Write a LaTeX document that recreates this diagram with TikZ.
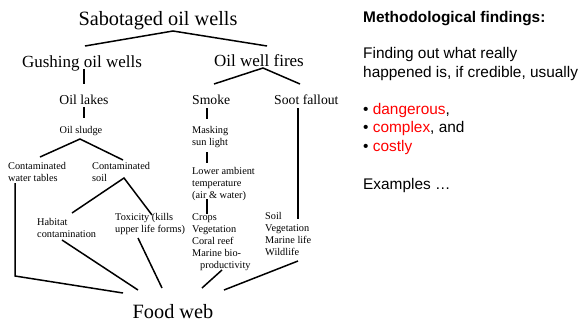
\documentclass[tikz,border=0pt]{standalone}
\usepackage{fontspec}
\setmainfont{Liberation Serif}
\newfontfamily\arialf{Liberation Sans}
\begin{document}
\begin{tikzpicture}[x=1pt,y=-1pt,
  big/.style={font=\fontsize{20.3}{24}\selectfont, inner sep=0pt, anchor=base},
  mid/.style={font=\fontsize{17}{20}\selectfont, inner sep=0pt, anchor=base},
  sml/.style={font=\fontsize{13.7}{16}\selectfont, inner sep=0pt, anchor=base},
  tiny/.style={font=\fontsize{10.3}{12}\selectfont, inner sep=0pt, align=left, anchor=base west},
  side/.style={font=\arialf\fontsize{15.4}{18.5}\selectfont, inner sep=0pt, anchor=base west, align=left},
  link/.style={line width=1.5pt}]
\useasboundingbox (0,0) rectangle (582,322);
% tree nodes (multi-line nodes are placed by the baseline of their last line)
\node[big] (sab) at (158,25) {Sabotaged oil wells};
\node[mid] (gush) at (82,67) {Gushing oil wells};
\node[mid] (fire) at (259,66) {Oil well fires};
\node[sml] (lakes) at (84,104) {Oil lakes};
\node[sml, anchor=base west] (smoke) at (192,104) {Smoke};
\node[sml, anchor=base west] (soot) at (274,104) {Soot fallout};
\node[tiny, anchor=base] (sludge) at (81,133) {Oil sludge};
\node[tiny] (mask) at (192,145) {Masking\\sun light};
\node[tiny] (water) at (8,181) {Contaminated\\water tables};
\node[tiny] (soil) at (92,181) {Contaminated\\soil};
\node[tiny] (lower) at (192,198) {Lower ambient\\temperature\\(air \& water)};
\node[tiny] (habitat) at (37,237.5) {Habitat\\contamination};
\node[tiny] (toxic) at (115,232) {Toxicity (kills\\upper life forms)};
\node[tiny] (crops) at (192,268) {Crops\\Vegetation\\Coral reef\\Marine bio-\\\hspace*{8pt}productivity};
\node[tiny] (soilv) at (265,255) {Soil\\Vegetation\\Marine life\\Wildlife};
\node[big] (food) at (173,318) {Food web};
% side text
\node[side, font=\arialf\bfseries\fontsize{15.4}{18.5}\selectfont] (meth) at (363,22) {Methodological findings:};
\node[side] (find) at (363,77) {Finding out what really\\happened is, if credible, usually};
\node[side] (list) at (363,151) {• \textcolor{red}{dangerous},\\• \textcolor{red}{complex}, and\\• \textcolor{red}{costly}};
\node[side] (ex) at (363,189) {Examples …};
% connector ends
\coordinate (sab-o) at (173,31);
\coordinate (gush-i) at (85,46);
\coordinate (fire-i) at (267,46);
\coordinate (gush-o) at (84,69);
\coordinate (lakes-i) at (84,84);
\coordinate (lakes-o) at (84,107);
\coordinate (sludge-i) at (84,118);
\coordinate (sludge-o) at (80,139);
\coordinate (water-i) at (40,157);
\coordinate (soil-i) at (123,160);
\coordinate (fire-o) at (263,68);
\coordinate (smoke-i) at (214,84);
\coordinate (soot-i) at (300,84);
\coordinate (smoke-o) at (207,108);
\coordinate (mask-i) at (207,119);
\coordinate (mask-o) at (207,152);
\coordinate (lower-i) at (207,163);
\coordinate (lower-o) at (207,199);
\coordinate (crops-i) at (207,214);
\coordinate (soot-o) at (298,108);
\coordinate (soilv-i) at (298,219);
\coordinate (soil-o) at (124,178);
\coordinate (habitat-i) at (72,213);
\coordinate (toxic-i) at (152,215);
\coordinate (water-o) at (15,183);
\coordinate (water-k) at (15,276);
\coordinate (food-a) at (123,293);
\coordinate (habitat-o) at (62,240);
\coordinate (food-b) at (138,290);
\coordinate (toxic-o) at (138,238);
\coordinate (food-c) at (162,288);
\coordinate (crops-o) at (222,270);
\coordinate (food-d) at (202,288);
\coordinate (soilv-o) at (298,261);
\coordinate (food-e) at (224,290);
% connectors
\draw[link] (gush-i) -- (sab-o) -- (fire-i);
\draw[link] (gush-o) -- (lakes-i);
\draw[link] (lakes-o) -- (sludge-i);
\draw[link] (water-i) -- (sludge-o) -- (soil-i);
\draw[link] (smoke-i) -- (fire-o) -- (soot-i);
\draw[link] (smoke-o) -- (mask-i);
\draw[link] (mask-o) -- (lower-i);
\draw[link] (lower-o) -- (crops-i);
\draw[link] (soot-o) -- (soilv-i);
\draw[link] (habitat-i) -- (soil-o) -- (toxic-i);
\draw[link] (water-o) -- (water-k) -- (food-a);
\draw[link] (habitat-o) -- (food-b);
\draw[link] (toxic-o) -- (food-c);
\draw[link] (crops-o) -- (food-d);
\draw[link] (soilv-o) -- (food-e);
\end{tikzpicture}
\end{document}
